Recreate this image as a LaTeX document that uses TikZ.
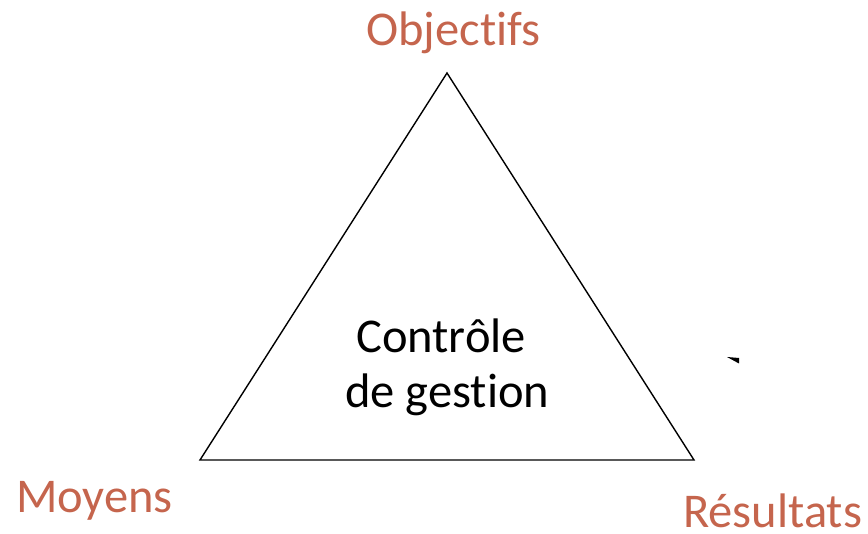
\documentclass[tikz,border=0pt]{standalone}
\usepackage{fontspec}
\setmainfont[Ligatures={NoCommon}]{Carlito}
\definecolor{labelc}{RGB}{197,101,77}
\begin{document}
\begin{tikzpicture}[x=1pt,y=-1pt,
  lbl/.style={inner sep=0pt,anchor=base west,font=\fontsize{48.5}{58}\selectfont},
  corner/.style={lbl,text=labelc}]
\useasboundingbox (0,0) rectangle (868,534);
\coordinate (top) at (447,73);
\coordinate (bl) at (200,460);
\coordinate (br) at (694,460);
\draw[line width=1.4pt,line join=miter] (top) -- (bl) -- (br) -- cycle;
\node[corner] (obj) at (366,46) {Objectifs};
\node[corner] (moy) at (16,513) {Moyens};
\node[corner] (res) at (683,527) {Résultats};
\node[lbl] (c1) at (356,353) {Contrôle};
\node[lbl] (c2) at (345,408) {de gestion};
\fill (727,357) -- (739,358) -- (739,363.5) -- cycle;
\end{tikzpicture}
\end{document}
